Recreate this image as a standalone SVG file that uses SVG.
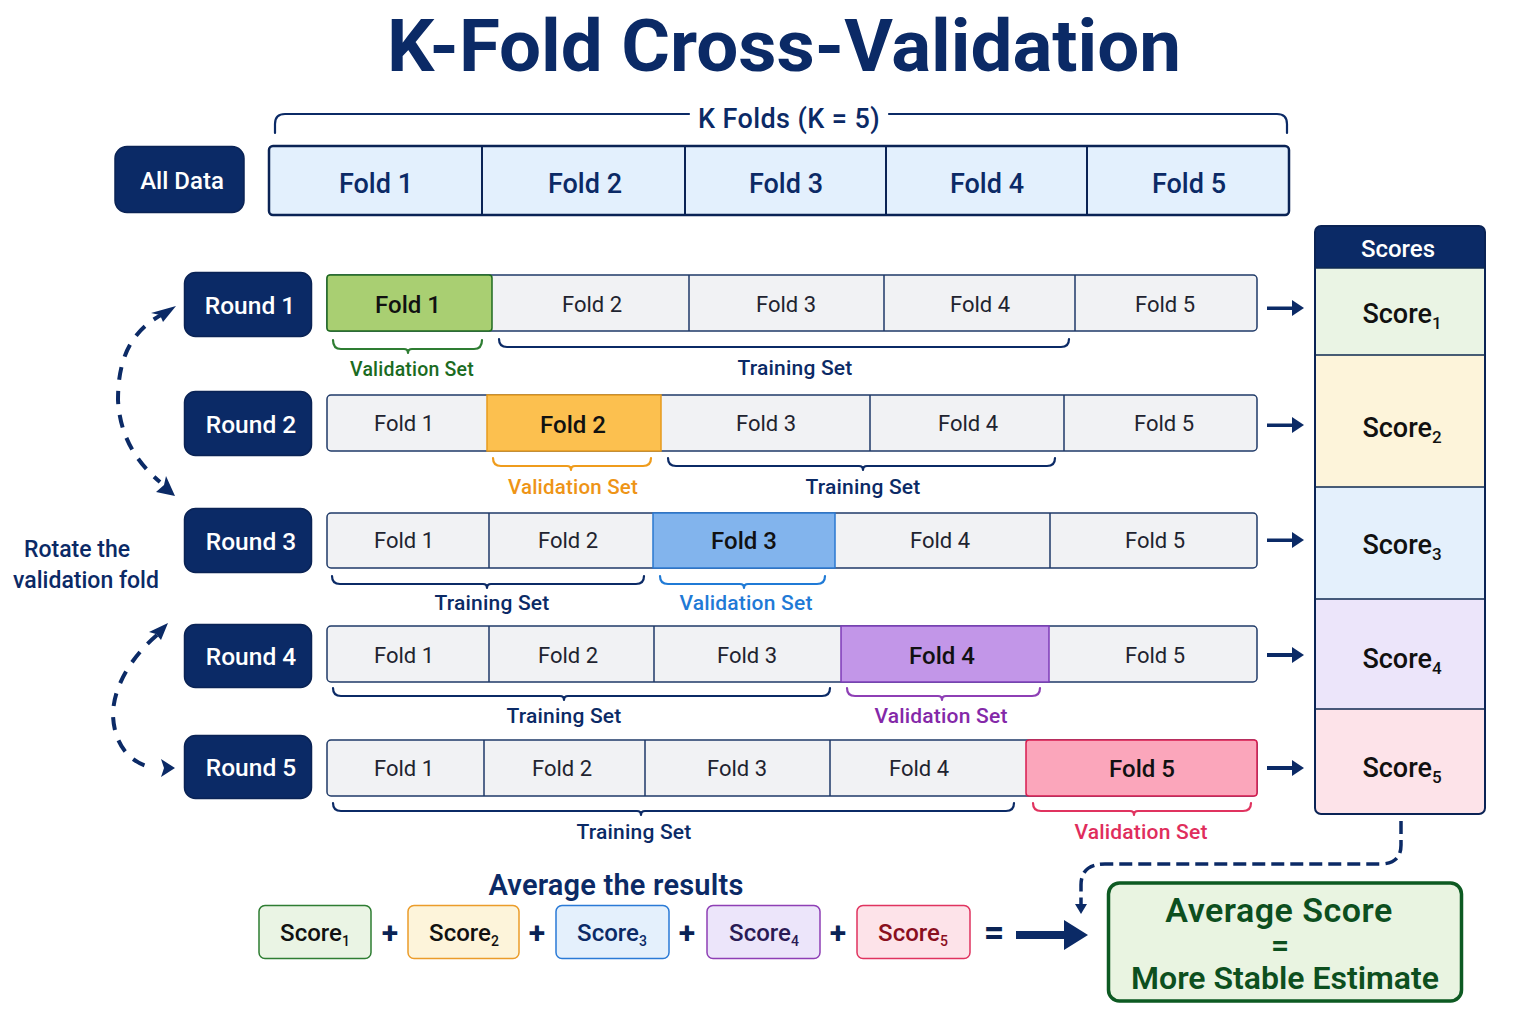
<svg xmlns="http://www.w3.org/2000/svg" width="1536" height="1024" viewBox="0 0 1536 1024">
<style>
text{font-family:Roboto,"Liberation Sans",sans-serif;text-anchor:middle}
.nav{fill:#0b2a66;stroke:#0a2355;stroke-width:1.5}
.wt{fill:#fff;font-size:24.500px;font-weight:500}
.top{fill:#e3f0fd;stroke:#0a2355;stroke-width:2.5}
.tf{fill:#0b2a66;font-size:27px;font-weight:500}
.row{fill:#f1f2f4;stroke:#1f3a68;stroke-width:1.5}
.f{fill:#1f2430;font-size:22px}
.fb{fill:#111;font-size:24px;font-weight:500}
.br{fill:none;stroke-width:2.2;stroke-linecap:round;stroke-linejoin:round}
.lb{font-size:21px;font-weight:500;letter-spacing:.2px}
.nv{stroke:#0b2a66;fill:none}
.sc{font-size:27px;font-weight:500;fill:#111}
.ss{font-size:24px;font-weight:500}
.op{font-size:30px;font-weight:700;fill:#0a2355}
.dash{fill:none;stroke:#0b2a66;stroke-width:4;stroke-dasharray:13 11}
</style>
<rect width="1536" height="1024" fill="#fff"/>
<text id="title" x="784" y="71" font-size="72" font-weight="700" fill="#0b2a66" textLength="794" lengthAdjust="spacingAndGlyphs">K-Fold Cross-Validation</text>

<g id="k-folds">
<path class="br nv" d="M275 133V124Q275 114 285 114H689M889 114H1277Q1287 114 1287 124V133" stroke-width="2.5"/>
<text x="789" y="128" font-size="27" font-weight="500" fill="#0b2a66" letter-spacing=".4">K Folds (K = 5)</text>
</g>
<g id="all-data"><rect class="nav" x="115" y="146.500" width="129" height="66" rx="12"/><text class="wt" x="182" y="189" style="font-size:24px">All Data</text></g>
<g id="fold-bar">
<rect class="top" x="269" y="146" width="1020" height="69" rx="4"/>
<path d="M482 146V215M685 146V215M886 146V215M1087 146V215" stroke="#0a2355" stroke-width="2"/>
<text class="tf" x="376" y="193">Fold 1</text><text class="tf" x="585" y="193">Fold 2</text><text class="tf" x="786" y="193">Fold 3</text><text class="tf" x="987" y="193">Fold 4</text><text class="tf" x="1189" y="193">Fold 5</text>
</g>

<g id="round-1">
<rect class="nav" x="184.500" y="272.500" width="127" height="64" rx="11"/><text class="wt" x="250" y="314">Round 1</text>
<rect class="row" x="327" y="275" width="930" height="56" rx="4"/>
<rect x="327" y="275" width="165" height="56" rx="3" fill="#a9cf72" stroke="#1f6b1f" stroke-width="1.500"/>
<path d="M689 275V331M884 275V331M1075 275V331" stroke="#1f3a68" stroke-width="1.500"/>
<text class="fb" x="408" y="313">Fold 1</text><text class="f" x="592" y="312">Fold 2</text><text class="f" x="786" y="312">Fold 3</text><text class="f" x="980" y="312">Fold 4</text><text class="f" x="1165" y="312">Fold 5</text>
<path class="br" stroke="#2e7d32" d="M333 340Q333 349 341 349H404Q408 349 408 353Q408 349 412 349H474Q482 349 482 340"/>
<path class="br" stroke="#0b2a66" d="M499 339Q499 347 507 347H1061Q1069 347 1069 339"/>
<text class="lb" x="412" y="376" fill="#1b6b1f" style="font-size:19.500px">Validation Set</text><text class="lb" x="795" y="375" fill="#0b2a66">Training Set</text>
</g>

<g id="round-2">
<rect class="nav" x="184.500" y="391.500" width="127" height="64" rx="11"/><text class="wt" x="251" y="433">Round 2</text>
<rect class="row" x="327" y="395" width="930" height="56" rx="4"/>
<rect x="487" y="395" width="174" height="56" fill="#fcc04f" stroke="#e69a1c" stroke-width="1.500"/>
<path d="M870 395V451M1064 395V451" stroke="#1f3a68" stroke-width="1.500"/>
<text class="f" x="404" y="431">Fold 1</text><text class="fb" x="573" y="433">Fold 2</text><text class="f" x="766" y="431">Fold 3</text><text class="f" x="968" y="431">Fold 4</text><text class="f" x="1164" y="431">Fold 5</text>
<path class="br" stroke="#ef9c1c" d="M493 458Q493 466 501 466H567Q571 466 571 470Q571 466 575 466H643Q651 466 651 458"/>
<path class="br" stroke="#0b2a66" d="M668 458Q668 466 676 466H859Q863 466 863 470Q863 466 867 466H1047Q1055 466 1055 458"/>
<text class="lb" x="573" y="494" fill="#ee9416" style="font-size:20.500px">Validation Set</text><text class="lb" x="863" y="494" fill="#0b2a66">Training Set</text>
</g>

<g id="round-3">
<rect class="nav" x="184.500" y="508.500" width="127" height="64" rx="11"/><text class="wt" x="251" y="550">Round 3</text>
<rect class="row" x="327" y="513" width="930" height="55" rx="4"/>
<rect x="653" y="513" width="182" height="55" fill="#82b4ed" stroke="#2a78d0" stroke-width="1.500"/>
<path d="M489 513V568M1050 513V568" stroke="#1f3a68" stroke-width="1.500"/>
<text class="f" x="404" y="548">Fold 1</text><text class="f" x="568" y="548">Fold 2</text><text class="fb" x="744" y="549">Fold 3</text><text class="f" x="940" y="548">Fold 4</text><text class="f" x="1155" y="548">Fold 5</text>
<path class="br" stroke="#0b2a66" d="M332 576Q332 584 340 584H483Q487 584 487 588Q487 584 491 584H636Q644 584 644 576"/>
<path class="br" stroke="#1f7ad6" d="M660 576Q660 584 668 584H740Q744 584 744 588Q744 584 748 584H817Q825 584 825 576"/>
<text class="lb" x="492" y="610" fill="#0b2a66">Training Set</text><text class="lb" x="746" y="610" fill="#1f7ad6">Validation Set</text>
</g>

<g id="round-4">
<rect class="nav" x="184.500" y="624.500" width="127" height="63" rx="11"/><text class="wt" x="251" y="665">Round 4</text>
<rect class="row" x="327" y="626" width="930" height="56" rx="4"/>
<rect x="841" y="626" width="208" height="56" fill="#c296e8" stroke="#7d3bb8" stroke-width="1.500"/>
<path d="M489 626V682M654 626V682" stroke="#1f3a68" stroke-width="1.500"/>
<text class="f" x="404" y="663">Fold 1</text><text class="f" x="568" y="663">Fold 2</text><text class="f" x="747" y="663">Fold 3</text><text class="fb" x="942" y="664">Fold 4</text><text class="f" x="1155" y="663">Fold 5</text>
<path class="br" stroke="#0b2a66" d="M333 688Q333 696 341 696H560Q564 696 564 700Q564 696 568 696H822Q830 696 830 688"/>
<path class="br" stroke="#8e3fb5" d="M847 688Q847 696 855 696H938Q942 696 942 700Q942 696 946 696H1032Q1040 696 1040 688"/>
<text class="lb" x="564" y="723" fill="#0b2a66">Training Set</text><text class="lb" x="941" y="723" fill="#8428a8">Validation Set</text>
</g>

<g id="round-5">
<rect class="nav" x="184.500" y="735.500" width="127" height="63" rx="11"/><text class="wt" x="251" y="776">Round 5</text>
<rect class="row" x="327" y="740" width="930" height="56" rx="4"/>
<rect x="1026" y="740" width="231" height="56" rx="3" fill="#fba6bb" stroke="#d81b4f" stroke-width="1.500"/>
<path d="M484 740V796M645 740V796M830 740V796" stroke="#1f3a68" stroke-width="1.500"/>
<text class="f" x="404" y="776">Fold 1</text><text class="f" x="562" y="776">Fold 2</text><text class="f" x="737" y="776">Fold 3</text><text class="f" x="919" y="776">Fold 4</text><text class="fb" x="1142" y="777">Fold 5</text>
<path class="br" stroke="#0b2a66" d="M333 803Q333 811 341 811H637Q641 811 641 815Q641 811 645 811H1006Q1014 811 1014 803"/>
<path class="br" stroke="#e0335f" d="M1033 803Q1033 811 1041 811H1130Q1134 811 1134 815Q1134 811 1138 811H1243Q1251 811 1251 803"/>
<text class="lb" x="634" y="839" fill="#0b2a66">Training Set</text><text class="lb" x="1141" y="839" fill="#e02d5c">Validation Set</text>
</g>

<g id="rotate-label"><text x="77" y="557" font-size="23" font-weight="500" fill="#0b2a66">Rotate the</text><text x="86" y="588" font-size="23" font-weight="500" fill="#0b2a66">validation fold</text></g>

<g id="scores">
<rect x="1315" y="226" width="170" height="588" rx="6" fill="#fff"/>
<path d="M1315 268V232Q1315 226 1321 226H1479Q1485 226 1485 232V268Z" fill="#0b2a66"/>
<rect x="1315.500" y="268" width="169" height="87" fill="#eaf4e4"/>
<rect x="1315.500" y="355" width="169" height="132" fill="#fdf4da"/>
<rect x="1315.500" y="487" width="169" height="112" fill="#e4f0fc"/>
<rect x="1315.500" y="599" width="169" height="110" fill="#ece5fa"/>
<path d="M1315.500 709H1484.500V808Q1484.500 814 1478 814H1322Q1315.500 814 1315.500 808Z" fill="#fde3e9"/>
<rect x="1315" y="226" width="170" height="588" rx="6" fill="none" stroke="#0a2355" stroke-width="2"/>
<path d="M1315 268H1485M1315 355H1485M1315 487H1485M1315 599H1485M1315 709H1485" stroke="#0f2a50" stroke-width="1.500"/>
<text x="1398" y="257" font-size="24" font-weight="500" fill="#fff">Scores</text>
<text class="sc" x="1402" y="323">Score<tspan font-size="17" dy="6">1</tspan></text>
<text class="sc" x="1402" y="437">Score<tspan font-size="17" dy="6">2</tspan></text>
<text class="sc" x="1402" y="554">Score<tspan font-size="17" dy="6">3</tspan></text>
<text class="sc" x="1402" y="668">Score<tspan font-size="17" dy="6">4</tspan></text>
<text class="sc" x="1402" y="777">Score<tspan font-size="17" dy="6">5</tspan></text>
</g>

<g id="connectors">
<g fill="#0b2a66" stroke="none">
<path d="M1267 306.500H1292V300L1304 308L1292 316V310H1267Z"/>
<path d="M1267 423.500H1292V417L1304 425L1292 433V427H1267Z"/>
<path d="M1267 538.500H1292V532L1304 540L1292 548V542H1267Z"/>
<path d="M1267 653H1292V647L1304 655L1292 663V657H1267Z"/>
<path d="M1267 766H1292V760L1304 768L1292 776V770H1267Z"/>
</g>
<path class="dash" d="M165 313C130 330 118 360 118 400C120 440 140 465 160 482"/>
<path fill="#0b2a66" d="M176 306L163 322L160 315L151 313Z"/>
<path fill="#0b2a66" d="M175 496L156 492L164 485L166 476Z"/>
<path class="dash" d="M157 635C128 660 113 690 113 715C114 745 130 762 150 767"/>
<path fill="#0b2a66" d="M168 623L161 640L156 634L149 632Z"/>
<path fill="#0b2a66" d="M175 768L161 777L164 768L161 759Z"/>
<path fill="none" stroke="#0b2a66" stroke-width="3.500" stroke-dasharray="13 6" d="M1401 821V845Q1401 864 1380 864H1105Q1081 864 1081 885V905"/>
<path fill="#0b2a66" d="M1075 904H1087L1081 914Z"/>
<path fill="#0b2a66" d="M1016 931H1064V920L1088 935L1064 950V939H1016Z"/>
</g>

<g id="avg-heading"><text x="616" y="895" font-size="29" font-weight="600" fill="#0b2a66" letter-spacing=".2">Average the results</text></g>
<g id="sum-1"><rect x="259" y="905.500" width="112" height="53" rx="6" fill="#eaf4e4" stroke="#2e7d32" stroke-width="1.500"/><text class="ss" x="315" y="941" fill="#111">Score<tspan font-size="14" dy="5">1</tspan></text></g>
<g id="sum-2"><rect x="408" y="905.500" width="111" height="53" rx="6" fill="#fdf4da" stroke="#eb9c2a" stroke-width="1.500"/><text class="ss" x="464" y="941" fill="#111">Score<tspan font-size="14" dy="5">2</tspan></text></g>
<g id="sum-3"><rect x="556" y="905.500" width="113" height="53" rx="6" fill="#e4f0fc" stroke="#2a7ad6" stroke-width="1.500"/><text class="ss" x="612" y="941" fill="#0b2a66">Score<tspan font-size="14" dy="5">3</tspan></text></g>
<g id="sum-4"><rect x="707" y="905.500" width="113" height="53" rx="6" fill="#ece5fa" stroke="#8e3fb5" stroke-width="1.500"/><text class="ss" x="764" y="941" fill="#2a1a55">Score<tspan font-size="14" dy="5">4</tspan></text></g>
<g id="sum-5"><rect x="857" y="905.500" width="113" height="53" rx="6" fill="#fde3e9" stroke="#e0335f" stroke-width="1.500"/><text class="ss" x="913" y="941" fill="#8a0f1e">Score<tspan font-size="14" dy="5">5</tspan></text></g>
<g id="operators"><text class="op" x="390" y="943">+</text><text class="op" x="537" y="943">+</text><text class="op" x="687" y="943">+</text><text class="op" x="838" y="943">+</text><text class="op" x="994" y="945" style="font-size:36px">=</text></g>
<g id="result">
<rect x="1108.500" y="883" width="353" height="118" rx="11" fill="#e9f4e1" stroke="#0d5a22" stroke-width="3.500"/>
<g font-weight="600" fill="#0d4f1e"><text x="1279" y="922" font-size="34" letter-spacing=".5">Average Score</text><text x="1280" y="956" font-size="32">=</text><text x="1285" y="989" font-size="32">More Stable Estimate</text></g>
</g>
</svg>
